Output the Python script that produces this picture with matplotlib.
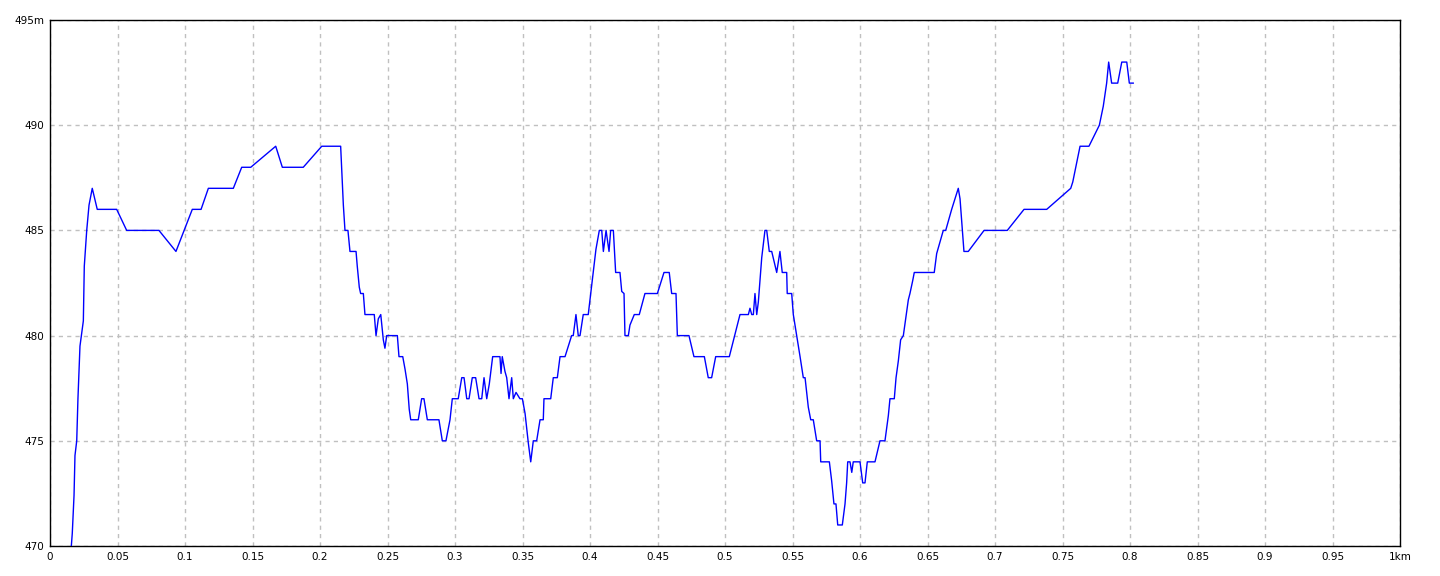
import matplotlib
matplotlib.use("Agg")
import matplotlib.pyplot as plt
import numpy as np

# elevation profile: distance (km) / elevation (m)
dist_km = [
    0.0158, 0.0165, 0.0178, 0.0185, 0.0198, 0.0207, 0.0222, 0.0247, 0.0254, 0.0272,
    0.0289, 0.0313, 0.0350, 0.0494, 0.0568, 0.0807, 0.0933, 0.1054, 0.1119, 0.1173,
    0.1358, 0.1420, 0.1487, 0.1672, 0.1721, 0.1876, 0.2013, 0.2153, 0.2161, 0.2173,
    0.2185, 0.2207, 0.2222, 0.2267, 0.2276, 0.2291, 0.2301, 0.2321, 0.2333, 0.2402,
    0.2415, 0.2432, 0.2450, 0.2469, 0.2481, 0.2494, 0.2573, 0.2585, 0.2613, 0.2630,
    0.2647, 0.2661, 0.2672, 0.2728, 0.2753, 0.2770, 0.2795, 0.2881, 0.2906, 0.2933,
    0.2963, 0.2980, 0.3024, 0.3050, 0.3067, 0.3087, 0.3104, 0.3128, 0.3153, 0.3178,
    0.3198, 0.3215, 0.3235, 0.3254, 0.3279, 0.3333, 0.3341, 0.3350, 0.3370, 0.3383,
    0.3400, 0.3420, 0.3432, 0.3452, 0.3481, 0.3499, 0.3519, 0.3543, 0.3561, 0.3580,
    0.3605, 0.3630, 0.3654, 0.3659, 0.3709, 0.3728, 0.3758, 0.3778, 0.3815, 0.3864,
    0.3876, 0.3896, 0.3913, 0.3926, 0.3950, 0.3987, 0.4000, 0.4020, 0.4044, 0.4069,
    0.4087, 0.4099, 0.4119, 0.4141, 0.4153, 0.4173, 0.4190, 0.4222, 0.4235, 0.4252,
    0.4259, 0.4284, 0.4296, 0.4328, 0.4365, 0.4407, 0.4499, 0.4548, 0.4587, 0.4605,
    0.4637, 0.4647, 0.4733, 0.4770, 0.4847, 0.4876, 0.4901, 0.4931, 0.5032, 0.5111,
    0.5173, 0.5185, 0.5198, 0.5210, 0.5222, 0.5235, 0.5247, 0.5272, 0.5296, 0.5309,
    0.5328, 0.5346, 0.5383, 0.5407, 0.5424, 0.5457, 0.5461, 0.5494, 0.5506, 0.5531,
    0.5556, 0.5580, 0.5593, 0.5617, 0.5635, 0.5654, 0.5679, 0.5704, 0.5709, 0.5773,
    0.5790, 0.5807, 0.5822, 0.5835, 0.5869, 0.5889, 0.5901, 0.5909, 0.5926, 0.5939,
    0.5950, 0.6000, 0.6020, 0.6037, 0.6054, 0.6111, 0.6148, 0.6185, 0.6210, 0.6222,
    0.6254, 0.6267, 0.6284, 0.6301, 0.6321, 0.6358, 0.6370, 0.6390, 0.6402, 0.6550,
    0.6568, 0.6617, 0.6635, 0.6679, 0.6728, 0.6741, 0.6770, 0.6802, 0.6919, 0.7091,
    0.7215, 0.7383, 0.7561, 0.7576, 0.7630, 0.7696, 0.7773, 0.7802, 0.7827, 0.7842,
    0.7864, 0.7909, 0.7939, 0.7976, 0.7995, 0.8024,
]
elev_m = [
    470, 470.6, 472.4, 474.3, 475, 477, 479.5, 480.7, 483.3, 485,
    486.2, 487, 486, 486, 485, 485, 484, 486, 486, 487,
    487, 488, 488, 489, 488, 488, 489, 489, 487.9, 486.2,
    485, 485, 484, 484, 483.3, 482.3, 482, 482, 481, 481,
    480, 480.8, 481, 479.8, 479.4, 480, 480, 479, 479, 478.4,
    477.7, 476.5, 476, 476, 477, 477, 476, 476, 475, 475,
    476, 477, 477, 478, 478, 477, 477, 478, 478, 477,
    477, 478, 477, 477.7, 479, 479, 478.2, 479, 478.3, 478,
    477, 478, 477, 477.3, 477, 477, 476.3, 474.9, 474, 475,
    475, 476, 476, 477, 477, 478, 478, 479, 479, 480,
    480, 481, 480, 480, 481, 481, 481.7, 482.8, 484.1, 485,
    485, 484, 485, 484, 485, 485, 483, 483, 482.1, 482,
    480, 480, 480.5, 481, 481, 482, 482, 483, 483, 482,
    482, 480, 480, 479, 479, 478, 478, 479, 479, 481,
    481, 481.3, 481, 481, 482, 481, 481.6, 483.7, 485, 485,
    484, 484, 483, 484, 483, 483, 482, 482, 481, 480,
    479, 478, 478, 476.6, 476, 476, 475, 475, 474, 474,
    473.1, 472, 472, 471, 471, 472, 473, 474, 474, 473.5,
    474, 474, 473, 473, 474, 474, 475, 475, 476.2, 477,
    477, 478, 478.8, 479.8, 480, 481.7, 482, 482.6, 483, 483,
    483.9, 485, 485, 486, 487, 486.5, 484, 484, 485, 485,
    486, 486, 487, 487.3, 489, 489, 490, 490.9, 492, 493,
    492, 492, 493, 493, 492, 492,
]

x_ticks = np.arange(0, 1.0001, 0.05)
x_labels = ["0", "0.05", "0.1", "0.15", "0.2", "0.25", "0.3", "0.35", "0.4", "0.45",
            "0.5", "0.55", "0.6", "0.65", "0.7", "0.75", "0.8", "0.85", "0.9", "0.95", "1km"]
y_ticks = [470, 475, 480, 485, 490, 495]
y_labels = ["470", "475", "480", "485", "490", "495m"]

fig = plt.figure(figsize=(14.4, 5.76), dpi=100)
ax = fig.add_axes([50 / 1440, 30 / 576, 1350 / 1440, 526 / 576])

ax.plot(dist_km, elev_m, color="#0000ff", linewidth=1.0, zorder=3)

ax.set_xlim(0, 1)
ax.set_ylim(470, 495)
ax.set_xticks(x_ticks)
ax.set_xticklabels(x_labels)
ax.set_yticks(y_ticks)
ax.set_yticklabels(y_labels)
ax.tick_params(length=0, labelsize=7.5, pad=4)
ax.grid(True, color="#c0c0c0", linestyle=(0, (3, 3)), linewidth=1.0)
for s in ax.spines.values():
    s.set_color("black")
    s.set_linewidth(1.0)

fig.savefig("out.png", dpi=100)
